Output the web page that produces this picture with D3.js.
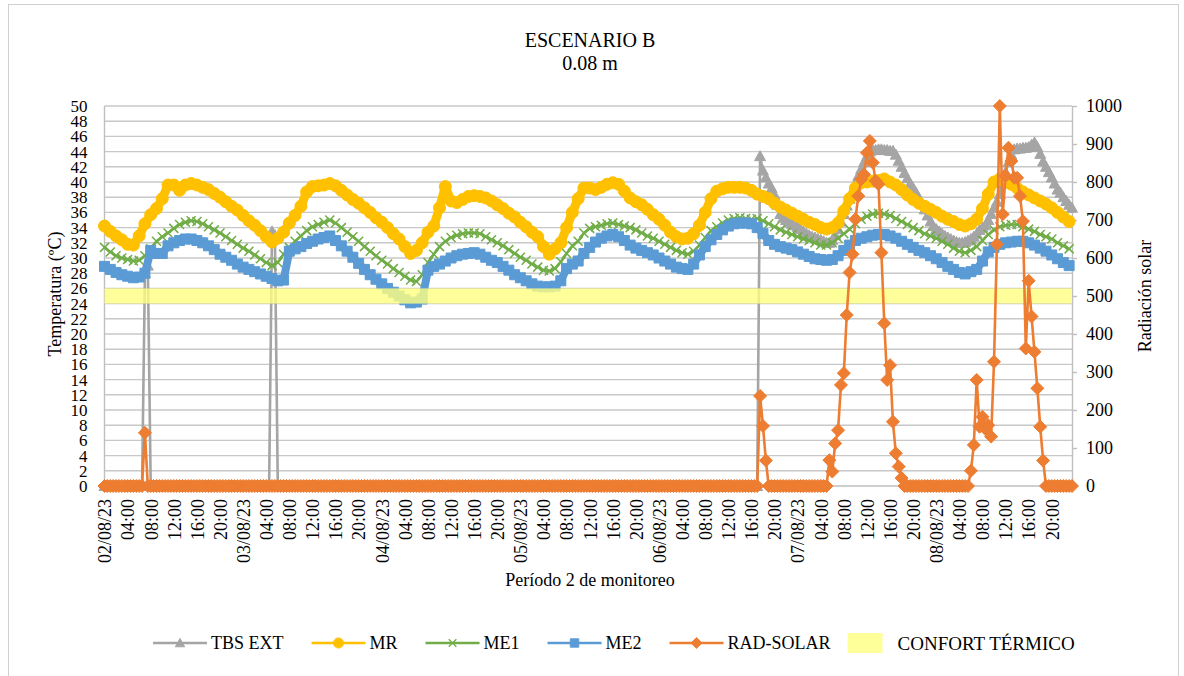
<!DOCTYPE html>
<html>
<head>
<meta charset="utf-8">
<script src="https://cdn.jsdelivr.net/npm/d3@7"></script>
<style>
  body { margin: 0; background: #fff; }
  svg { font-family: 'Liberation Serif', 'Times New Roman', serif; }
</style>
</head>
<body>
<div id="chart"></div>
<script>
// mise en place
const width = 1184;
const height = 676;

const dayLabels = ['02/08/23', '03/08/23', '04/08/23', '05/08/23', '06/08/23', '07/08/23', '08/08/23'];
const hourLabels = ['04:00', '08:00', '12:00', '16:00', '20:00'];

// hourly values, 02/08 00:00 -> 08/08 23:00
const mr = [
  34.2, 33.5, 32.9, 32.4, 31.8, 31.7, 32.9, 34.5, 35.7, 36.5, 37.8, 39.6, 39.6, 38.9, 39.6, 39.8, 39.6, 39.3, 39.0, 38.5, 38.0, 37.4, 36.8, 36.3,
  35.6, 34.9, 34.3, 33.6, 32.8, 32.1, 32.6, 33.4, 34.6, 35.6, 36.8, 38.7, 39.4, 39.5, 39.6, 39.8, 39.5, 38.9, 38.3, 37.7, 37.2, 36.6, 36.0, 35.3,
  34.7, 34.0, 33.2, 32.5, 31.5, 30.6, 31.0, 32.0, 33.4, 34.2, 36.6, 39.4, 37.5, 37.3, 37.7, 38.1, 38.2, 38.1, 37.9, 37.5, 37.0, 36.5, 35.9, 35.4,
  34.7, 34.1, 33.4, 32.8, 31.5, 30.5, 31.2, 32.0, 34.0, 36.0, 37.8, 39.2, 39.2, 39.0, 39.3, 39.7, 39.9, 39.7, 38.8, 37.9, 37.4, 37.0, 36.4, 35.7,
  35.1, 34.3, 33.4, 32.8, 32.5, 32.6, 33.2, 34.3, 36.0, 37.8, 38.8, 39.1, 39.3, 39.3, 39.3, 39.2, 38.9, 38.4, 38.1, 37.8, 37.2, 36.7, 36.3, 35.9,
  35.5, 35.1, 34.7, 34.4, 34.0, 33.8, 34.0, 34.6, 36.2, 37.8, 39.2, 39.9, 40.0, 40.1, 40.2, 40.4, 40.0, 39.6, 39.0, 38.3, 37.7, 37.2, 36.8, 36.4,
  36.0, 35.5, 35.1, 34.8, 34.4, 34.2, 34.5, 35.1, 36.5, 38.4, 40.0, 40.4, 40.0, 39.7, 39.2, 38.7, 38.3, 37.9, 37.5, 37.1, 36.6, 36.0, 35.4, 34.8
];

const me1 = [
  31.4, 30.8, 30.3, 30.0, 29.8, 29.6, 29.7, 30.3, 31.2, 32.2, 32.8, 33.3, 33.9, 34.4, 34.7, 34.9, 34.8, 34.5, 34.1, 33.7, 33.3, 32.8, 32.3, 31.8,
  31.3, 30.9, 30.4, 29.9, 29.4, 29.0, 29.4, 30.5, 31.4, 32.2, 32.9, 33.6, 34.1, 34.4, 34.7, 35.0, 34.6, 34.0, 33.4, 32.8, 32.2, 31.5, 30.9, 30.3,
  29.7, 29.2, 28.6, 28.1, 27.6, 27.1, 26.9, 27.8, 29.4, 30.5, 31.5, 32.2, 32.7, 33.0, 33.2, 33.3, 33.3, 33.2, 32.8, 32.4, 32.0, 31.6, 31.1, 30.6,
  30.1, 29.7, 29.2, 28.8, 28.4, 28.3, 28.6, 29.5, 30.6, 31.6, 32.2, 33.3, 33.9, 34.1, 34.3, 34.5, 34.6, 34.4, 34.2, 34.0, 33.7, 33.3, 32.9, 32.6,
  32.2, 31.8, 31.4, 31.0, 30.7, 30.5, 30.9, 31.7, 32.7, 33.6, 34.1, 34.6, 35.0, 35.2, 35.3, 35.2, 35.1, 35.2, 34.9, 34.5, 34.1, 33.7, 33.4, 33.1,
  32.8, 32.5, 32.3, 32.0, 31.7, 31.7, 32.0, 32.6, 33.2, 33.8, 34.5, 35.1, 35.5, 35.8, 35.9, 35.8, 35.6, 35.2, 34.8, 34.4, 34.0, 33.6, 33.2, 32.9,
  32.6, 32.2, 31.8, 31.3, 30.9, 30.7, 31.0, 31.5, 32.3, 33.1, 33.7, 34.1, 34.3, 34.4, 34.4, 34.1, 33.8, 33.5, 33.1, 32.8, 32.5, 32.0, 31.6, 31.2
];

const me2 = [
  28.9, 28.5, 28.1, 27.8, 27.6, 27.4, 27.5, 28.0, 31.0, 30.6, 30.6, 31.6, 32.0, 32.3, 32.5, 32.5, 32.3, 32.0, 31.6, 31.1, 30.5, 30.1, 29.7, 29.2,
  28.8, 28.5, 28.2, 27.9, 27.6, 27.3, 27.0, 27.1, 30.9, 31.2, 31.5, 31.9, 32.2, 32.5, 32.7, 32.9, 32.3, 31.6, 30.9, 30.1, 29.3, 28.5, 27.8, 27.2,
  26.6, 26.0, 25.5, 25.0, 24.5, 24.1, 24.2, 24.6, 28.4, 28.9, 29.2, 29.6, 30.0, 30.3, 30.5, 30.6, 30.7, 30.5, 30.1, 29.7, 29.4, 28.9, 28.4, 27.8,
  27.4, 27.0, 26.6, 26.3, 26.2, 26.2, 26.3, 27.0, 28.6, 29.2, 29.6, 30.6, 31.4, 32.1, 32.6, 32.9, 33.1, 32.8, 32.3, 31.7, 31.3, 31.0, 30.7, 30.4,
  30.0, 29.6, 29.2, 28.8, 28.6, 28.5, 29.2, 30.4, 31.5, 32.4, 33.1, 33.7, 34.2, 34.5, 34.6, 34.6, 34.5, 34.0, 33.2, 32.3, 31.8, 31.5, 31.3, 31.1,
  30.8, 30.5, 30.2, 29.9, 29.8, 29.7, 29.8, 30.3, 31.0, 31.7, 32.3, 32.6, 32.8, 33.0, 33.1, 33.1, 32.9, 32.6, 32.2, 31.8, 31.4, 31.0, 30.7, 30.3,
  29.9, 29.4, 28.9, 28.5, 28.1, 27.9, 28.2, 28.5, 29.6, 30.8, 31.4, 31.8, 32.0, 32.1, 32.2, 32.2, 32.0, 31.7, 31.3, 30.9, 30.4, 29.9, 29.4, 29.0
];

// half-hourly values, 02/08 00:00 -> 08/08 23:30
const tbsExt = [
  0, 0, 0, 0, 0, 0, 0, 0, 0, 0, 0, 0, 0, 0, 28, 29, 0, 0, 0, 0, 0, 0, 0, 0,
  0, 0, 0, 0, 0, 0, 0, 0, 0, 0, 0, 0, 0, 0, 0, 0, 0, 0, 0, 0, 0, 0, 0, 0,
  0, 0, 0, 0, 0, 0, 0, 0, 0, 0, 33.5, 33, 0, 0, 0, 0, 0, 0, 0, 0, 0, 0, 0, 0,
  0, 0, 0, 0, 0, 0, 0, 0, 0, 0, 0, 0, 0, 0, 0, 0, 0, 0, 0, 0, 0, 0, 0, 0,
  0, 0, 0, 0, 0, 0, 0, 0, 0, 0, 0, 0, 0, 0, 0, 0, 0, 0, 0, 0, 0, 0, 0, 0,
  0, 0, 0, 0, 0, 0, 0, 0, 0, 0, 0, 0, 0, 0, 0, 0, 0, 0, 0, 0, 0, 0, 0, 0,
  0, 0, 0, 0, 0, 0, 0, 0, 0, 0, 0, 0, 0, 0, 0, 0, 0, 0, 0, 0, 0, 0, 0, 0,
  0, 0, 0, 0, 0, 0, 0, 0, 0, 0, 0, 0, 0, 0, 0, 0, 0, 0, 0, 0, 0, 0, 0, 0,
  0, 0, 0, 0, 0, 0, 0, 0, 0, 0, 0, 0, 0, 0, 0, 0, 0, 0, 0, 0, 0, 0, 0, 0,
  0, 0, 0, 0, 0, 0, 0, 0, 0, 0, 0, 43.4, 41.5, 40.6, 39.8, 39.2, 38.3, 37.0, 35.8, 35.3, 35.0, 34.7, 34.5, 34.3,
  34.1, 33.8, 33.5, 33.2, 33.0, 32.8, 32.7, 32.5, 32.4, 32.2, 32.0, 32.0, 32.4, 33.0, 33.8, 34.8, 35.8, 36.9, 37.8, 38.8, 39.8, 40.8, 41.7, 42.6,
  43.4, 44.0, 44.2, 44.2, 44.3, 44.3, 44.2, 44.2, 44.1, 44.1, 43.6, 42.8, 42.0, 41.2, 40.5, 39.8, 39.2, 38.6, 37.9, 37.2, 36.4, 35.6, 34.8, 34.2,
  33.8, 33.5, 33.2, 32.9, 32.7, 32.5, 32.3, 32.1, 32.0, 32.0, 32.1, 32.3, 32.5, 32.8, 33.2, 33.7, 34.0, 34.3, 35.0, 35.8, 36.6, 37.4, 38.4, 39.8,
  41.3, 42.6, 43.6, 44.3, 44.4, 44.4, 44.5, 44.5, 44.6, 44.9, 45.2, 44.6, 43.7, 42.7, 42.0, 41.3, 40.6, 39.8, 39.0, 38.6, 38.0, 37.5, 37.0, 36.6
];

const radSolar = [
  0, 0, 0, 0, 0, 0, 0, 0, 0, 0, 0, 0, 0, 0, 140, 0, 0, 0, 0, 0, 0, 0, 0, 0,
  0, 0, 0, 0, 0, 0, 0, 0, 0, 0, 0, 0, 0, 0, 0, 0, 0, 0, 0, 0, 0, 0, 0, 0,
  0, 0, 0, 0, 0, 0, 0, 0, 0, 0, 0, 0, 0, 0, 0, 0, 0, 0, 0, 0, 0, 0, 0, 0,
  0, 0, 0, 0, 0, 0, 0, 0, 0, 0, 0, 0, 0, 0, 0, 0, 0, 0, 0, 0, 0, 0, 0, 0,
  0, 0, 0, 0, 0, 0, 0, 0, 0, 0, 0, 0, 0, 0, 0, 0, 0, 0, 0, 0, 0, 0, 0, 0,
  0, 0, 0, 0, 0, 0, 0, 0, 0, 0, 0, 0, 0, 0, 0, 0, 0, 0, 0, 0, 0, 0, 0, 0,
  0, 0, 0, 0, 0, 0, 0, 0, 0, 0, 0, 0, 0, 0, 0, 0, 0, 0, 0, 0, 0, 0, 0, 0,
  0, 0, 0, 0, 0, 0, 0, 0, 0, 0, 0, 0, 0, 0, 0, 0, 0, 0, 0, 0, 0, 0, 0, 0,
  0, 0, 0, 0, 0, 0, 0, 0, 0, 0, 0, 0, 0, 0, 0, 0, 0, 0, 0, 0, 0, 0, 0, 0,
  0, 0, 0, 0, 0, 0, 0, 0, 0, 0, 0, 237, 158, 67, 0, 0, 0, 0, 0, 0, 0, 0, 0, 0,
  0, 0, 0, 0, 0, 0, 0, 0, 0, 0, 0, 68, 38, 112, 147, 266, 297, 450, 562, 610, 702, 763, 807, 820,
  877, 908, 851, 803, 794, 614, 428, 279, 318, 169, 86, 51, 21, 0, 0, 0, 0, 0, 0, 0, 0, 0, 0, 0,
  0, 0, 0, 0, 0, 0, 0, 0, 0, 0, 0, 0, 40, 108, 279, 156, 182, 150, 160, 130, 327, 636, 1000, 715,
  816, 890, 855, 811, 811, 763, 697, 362, 540, 446, 353, 257, 156, 67, 0, 0, 0, 0, 0, 0, 0, 0, 0, 0
];

const confort = [24, 26];

const plot = { left: 104.5, right: 1072, top: 106, bottom: 486 };

const x = d3.scaleLinear().domain([0, 167.5]).range([plot.left, plot.right]);
const yL = d3.scaleLinear().domain([0, 50]).range([plot.bottom, plot.top]);
const yR = d3.scaleLinear().domain([0, 1000]).range([plot.bottom, plot.top]);

const markers = {
  triangle: 'M0,-5.5L5.5,4.5L-5.5,4.5Z',
  circle: d3.symbol(d3.symbolCircle, 113)(),
  cross: 'M-4.5,-4.5L4.5,4.5M-4.5,4.5L4.5,-4.5',
  square: 'M-5,-5H5V5H-5Z',
  diamond: 'M0,-6.5L6.5,0L0,6.5L-6.5,0Z'
};

// lineWidth: half-hourly markers in the original overlap into a ribbon
const series = [
  { name: 'TBS EXT', values: tbsExt, step: 0.5, y: yL, color: '#A5A5A5', marker: 'triangle', lineWidth: 2.6 },
  { name: 'MR', values: mr, step: 1, y: yL, color: '#FFC000', marker: 'circle', lineWidth: 9 },
  { name: 'ME1', values: me1, step: 1, y: yL, color: '#70AD47', marker: 'cross', lineWidth: 2.6 },
  { name: 'ME2', values: me2, step: 1, y: yL, color: '#5B9BD5', marker: 'square', lineWidth: 8 },
  { name: 'RAD-SOLAR', values: radSolar, step: 0.5, y: yR, color: '#ED7D31', marker: 'diamond', lineWidth: 2.6 }
];

const svg = d3.select('#chart')
  .append('svg')
  .attr('width', width)
  .attr('height', height)
  .attr('font-family', "'Liberation Serif', 'Times New Roman', serif");

svg.append('rect')
  .attr('x', 8.5).attr('y', 4.5)
  .attr('width', 1170).attr('height', 690)
  .attr('fill', '#fff')
  .attr('stroke', '#d0d0d0');

// grid
svg.append('g')
  .selectAll('line')
  .data(d3.range(2, 51, 2))
  .enter()
  .append('line')
  .attr('x1', plot.left).attr('x2', plot.right)
  .attr('y1', d => yL(d)).attr('y2', d => yL(d))
  .attr('stroke', '#c8c8c8')
  .attr('stroke-width', 1.4);

svg.append('line')
  .attr('x1', plot.left).attr('x2', plot.left)
  .attr('y1', plot.top).attr('y2', plot.bottom)
  .attr('stroke', '#bfbfbf').attr('stroke-width', 1.4);

svg.append('line')
  .attr('x1', plot.left).attr('x2', plot.right)
  .attr('y1', plot.bottom).attr('y2', plot.bottom)
  .attr('stroke', '#bfbfbf').attr('stroke-width', 1.4);

// axes
const leftAxis = svg.append('g')
  .attr('transform', `translate(${plot.left},0)`)
  .call(d3.axisLeft(yL).tickValues(d3.range(0, 51, 2)).tickSize(0).tickPadding(17));
leftAxis.select('.domain').remove();

const rightAxis = svg.append('g')
  .attr('transform', `translate(${plot.right},0)`)
  .call(d3.axisRight(yR).tickValues(d3.range(0, 1001, 100)).tickFormat(d3.format('d'))
    .tickSize(5).tickSizeOuter(0).tickPadding(9));
rightAxis.select('.domain').attr('stroke', '#bfbfbf').attr('stroke-width', 1.4);
rightAxis.selectAll('.tick line').attr('stroke', '#bfbfbf').attr('stroke-width', 1.4);

const tickLabel = (h) => h % 24 === 0 ? dayLabels[h / 24] : hourLabels[(h % 24) / 4 - 1];

const bottomAxis = svg.append('g')
  .attr('transform', `translate(0,${plot.bottom})`)
  .call(d3.axisBottom(x).tickValues(d3.range(0, 165, 4)).tickFormat(tickLabel).tickSize(0));
bottomAxis.select('.domain').remove();
bottomAxis.selectAll('text')
  .attr('x', -13)
  .attr('y', 0)
  .attr('dy', '0.35em')
  .attr('transform', 'rotate(-90)')
  .style('text-anchor', 'end');

[leftAxis, rightAxis, bottomAxis].forEach(a => a.attr('font-family', null).attr('font-size', null));

svg.selectAll('.tick text')
  .attr('fill', '#000')
  .style('font-size', '18px');

leftAxis.selectAll('.tick text').style('font-size', '17px');

// series
const drawSeries = (s) => {
  const pts = s.values.map((v, i) => [x(i * s.step), s.y(v)]);
  const g = svg.append('g');
  g.append('path')
    .attr('d', d3.line()(pts))
    .attr('fill', 'none')
    .attr('stroke', s.color)
    .attr('stroke-width', s.lineWidth)
    .attr('stroke-linejoin', 'round')
    .attr('stroke-linecap', 'round');
  g.selectAll('path.mk')
    .data(pts)
    .enter()
    .append('path')
    .attr('class', 'mk')
    .attr('d', markers[s.marker])
    .attr('transform', d => `translate(${d[0]},${d[1]})`)
    .attr('fill', s.marker === 'cross' ? 'none' : s.color)
    .attr('stroke', s.color)
    .attr('stroke-width', s.marker === 'cross' ? 1.5 : 1);
};

series.slice(0, 4).forEach(drawSeries);

svg.append('rect')
  .attr('x', x(0))
  .attr('width', x(167.5) - x(0))
  .attr('y', yL(confort[1]))
  .attr('height', yL(confort[0]) - yL(confort[1]))
  .attr('fill', '#FFFF80')
  .attr('opacity', 0.8);

drawSeries(series[4]);

// titles
svg.append('text')
  .text('ESCENARIO B')
  .attr('x', 590).attr('y', 47)
  .attr('text-anchor', 'middle')
  .style('font-size', '20px');

svg.append('text')
  .text('0.08 m')
  .attr('x', 590).attr('y', 70)
  .attr('text-anchor', 'middle')
  .style('font-size', '20px');

svg.append('text')
  .text('Período 2 de monitoreo')
  .attr('x', 590).attr('y', 586)
  .attr('text-anchor', 'middle')
  .style('font-size', '18px');

svg.append('text')
  .text('Temperatura (ºC)')
  .attr('transform', 'translate(55,294) rotate(-90)')
  .attr('dy', '0.35em')
  .attr('text-anchor', 'middle')
  .style('font-size', '18px');

svg.append('text')
  .text('Radiación solar')
  .attr('transform', 'translate(1145,296) rotate(-90)')
  .attr('dy', '0.35em')
  .attr('text-anchor', 'middle')
  .style('font-size', '18px');

// legend
const LEGEND_Y = 643;
const LEGEND_LINE = 54;
let lx = 153;

series.forEach((s, i) => {
  const g = svg.append('g');
  g.append('line')
    .attr('x1', lx).attr('x2', lx + LEGEND_LINE)
    .attr('y1', LEGEND_Y).attr('y2', LEGEND_Y)
    .attr('stroke', s.color)
    .attr('stroke-width', 2.6);
  g.append('path')
    .attr('d', markers[s.marker])
    .attr('transform', `translate(${lx + LEGEND_LINE / 2},${LEGEND_Y}) scale(0.85)`)
    .attr('fill', s.marker === 'cross' ? 'none' : s.color)
    .attr('stroke', s.color)
    .attr('stroke-width', s.marker === 'cross' ? 1.5 : 1);
  const t = g.append('text')
    .text(s.name)
    .attr('x', lx + LEGEND_LINE + 4)
    .attr('y', LEGEND_Y)
    .attr('dy', '0.35em')
    .style('font-size', '18px');
  lx = lx + LEGEND_LINE + 4 + t.node().getComputedTextLength() + (i < series.length - 1 ? 28 : 17);
});

svg.append('rect')
  .attr('x', lx).attr('y', LEGEND_Y - 10)
  .attr('width', 35).attr('height', 20)
  .attr('fill', '#FFFF80')
  .attr('opacity', 0.8);

svg.append('text')
  .text('CONFORT TÉRMICO')
  .attr('x', lx + 50)
  .attr('y', LEGEND_Y)
  .attr('dy', '0.35em')
  .style('font-size', '19px');
</script>
</body>
</html>
